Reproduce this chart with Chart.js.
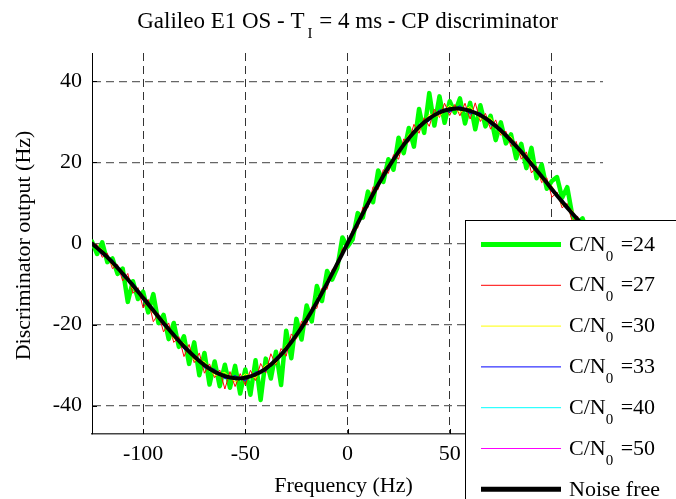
<!DOCTYPE html>
<html>
<head>
<meta charset="utf-8">
<script src="https://cdn.jsdelivr.net/npm/chart.js@4.4.0/dist/chart.umd.min.js"></script>
<style>
html,body{margin:0;padding:0;background:#fff;}
#wrap{width:676px;height:499px;position:relative;}
</style>
</head>
<body>
<div id="wrap"><canvas id="c" width="676" height="499"></canvas></div>
<script>
// ---------- DATA ----------
const freqFine = [-125,-122.5,-120,-117.5,-115,-112.5,-110,-107.5,-105,-102.5,-100,-97.5,-95,-92.5,-90,-87.5,-85,-82.5,-80,-77.5,-75,-72.5,-70,-67.5,-65,-62.5,-60,-57.5,-55,-52.5,-50,-47.5,-45,-42.5,-40,-37.5,-35,-32.5,-30,-27.5,-25,-22.5,-20,-17.5,-15,-12.5,-10,-7.5,-5,-2.5,0,2.5,5,7.5,10,12.5,15,17.5,20,22.5,25,27.5,30,32.5,35,37.5,40,42.5,45,47.5,50,52.5,55,57.5,60,62.5,65,67.5,70,72.5,75,77.5,80,82.5,85,87.5,90,92.5,95,97.5,100,102.5,105,107.5,110,112.5,115,117.5,120,122.5,125];
const freqCoarse = [-125,-120,-115,-110,-105,-100,-95,-90,-85,-80,-75,-70,-65,-60,-55,-50,-45,-40,-35,-30,-25,-20,-15,-10,-5,0,5,10,15,20,25,30,35,40,45,50,55,60,65,70,75,80,85,90,95,100,105,110,115,120,125];

const cn24 = [0.5,-2.6,0.3,-4.6,-3.7,-7.5,-6.2,-14.4,-9.3,-13.7,-11.9,-17.0,-12.5,-19.6,-17.6,-23.6,-19.6,-25.5,-22.9,-29.7,-24.4,-32.5,-27.0,-34.8,-29.1,-35.2,-29.9,-35.6,-30.2,-37.0,-31.1,-37.3,-28.8,-38.6,-28.4,-33.3,-26.7,-34.9,-21.5,-28.3,-18.6,-23.7,-15.3,-19.2,-10.5,-14.2,-6.8,-8.9,-6.0,1.5,-0.8,1.0,7.5,6.4,12.8,10.2,18.0,15.2,20.8,18.2,26.1,22.3,28.5,23.9,33.2,27.3,37.1,29.1,36.3,29.8,35.1,32.3,35.8,29.6,34.7,28.2,34.1,28.9,31.5,25.5,29.9,24.7,26.9,21.0,24.6,18.6,23.6,16.1,19.5,13.5,15.4,16.4,11.3,13.9,6.9,5.0,6.2,2.4,3.2,0.6,0.5];
const cn27 = [-0.3,-0.3,-3.4,-2.4,-6.2,-5.2,-9.2,-7.4,-12.3,-10.9,-15.9,-13.8,-19.3,-17.3,-21.8,-19.6,-24.4,-23.0,-27.9,-24.9,-29.4,-27.0,-32.0,-29.7,-33.1,-31.2,-35.9,-31.6,-35.3,-32.1,-34.9,-31.3,-33.8,-29.6,-31.9,-27.2,-29.9,-25.9,-27.8,-22.3,-23.6,-19.2,-20.0,-15.7,-16.0,-11.0,-11.3,-6.4,-5.8,-1.3,-0.5,3.5,3.8,8.9,8.8,14.0,13.3,18.2,17.3,21.9,20.8,25.8,25.0,29.4,27.2,31.0,28.9,33.1,31.1,34.6,31.6,34.3,31.5,34.6,30.7,34.7,30.1,32.1,28.2,30.5,26.7,27.7,23.9,25.2,20.8,22.6,17.4,19.1,15.0,16.2,11.4,12.7,8.8,9.9,5.4,6.8,3.5,4.2,1.2,1.6,0.2];
const cn30 = [0.3,-1.5,-5.5,-6.8,-11.2,-12.7,-17.3,-18.9,-23.5,-24.6,-28.8,-29.1,-32.6,-31.8,-34.2,-32.2,-33.2,-30.0,-29.6,-25.1,-23.4,-18.0,-15.3,-9.0,-5.8,0.6,4.2,10.7,13.7,19.6,21.8,26.9,27.9,31.8,31.4,34.1,32.3,33.8,30.7,31.0,27.0,26.3,21.7,20.5,15.6,14.2,9.5,8.2,3.9,2.9,-0.2];
const cn33 = [-0.2,-2.8,-4.0,-8.1,-9.7,-14.1,-15.9,-20.3,-22.0,-26.1,-27.3,-30.7,-31.0,-33.4,-32.6,-33.9,-31.7,-31.5,-28.1,-26.6,-22.0,-19.4,-13.9,-10.5,-4.4,-0.5,5.6,9.2,15.1,18.1,23.3,25.3,29.4,30.2,33.0,32.4,34.0,32.0,32.3,29.3,28.5,24.7,23.2,19.0,17.1,12.8,10.9,6.8,5.2,1.6,0.3];
const cn40 = [0.1,-2.4,-4.4,-7.7,-10.1,-13.6,-16.3,-19.9,-22.4,-25.6,-27.7,-30.2,-31.4,-33.0,-33.0,-33.4,-32.1,-31.1,-28.5,-26.2,-22.4,-19.0,-14.3,-10.1,-4.8,0.2,5.2,10.1,14.3,19.0,22.4,25.8,28.5,31.1,32.1,33.4,33.0,32.5,31.4,30.2,27.7,25.6,22.4,19.4,16.3,13.6,10.1,7.7,4.4,2.4,-0.1];
const cn50 = [0.0,-2.1,-4.7,-7.3,-10.4,-13.3,-16.6,-19.5,-22.7,-25.3,-27.9,-30.1,-31.6,-32.8,-33.2,-33.2,-32.3,-30.9,-28.7,-26.0,-22.6,-18.8,-14.5,-9.8,-5.0,0.1,5.0,9.9,14.4,18.8,22.6,26.0,28.8,30.8,32.4,33.1,33.3,32.7,31.7,29.9,27.9,25.4,22.6,19.6,16.5,13.4,10.3,7.4,4.7,2.2,0.0];
const noiseFree = [0,-2.18,-4.66,-7.40,-10.33,-13.40,-16.52,-19.62,-22.61,-25.40,-27.88,-29.99,-31.63,-32.73,-33.25,-33.12,-32.33,-30.86,-28.73,-25.97,-22.63,-18.77,-14.48,-9.84,-4.98,0,4.98,9.84,14.48,18.77,22.63,25.97,28.73,30.86,32.33,33.12,33.25,32.73,31.63,29.99,27.88,25.40,22.61,19.62,16.52,13.40,10.33,7.40,4.66,2.18,0];

const xTicks = [-100,-50,0,50,100];
const yTicks = [-40,-20,0,20,40];
const cnLabels = ['24','27','30','33','40','50'];
const noiseFreeLabel = 'Noise free';
const titleMain = 'Galileo E1 OS - T';
const titleSub = 'I';
const titleRest = ' = 4 ms - CP discriminator';
const xTitle = 'Frequency (Hz)';
const yTitle = 'Discriminator output (Hz)';

// ---------- STYLE ----------
const FONT = '"Liberation Serif", "Times New Roman", serif';
const pair = (xs, ys) => xs.map((x, i) => ({x: x, y: ys[i]}));

const series = [
  {ys: cn24, xs: freqFine,   color: '#00ff00', width: 4.5, order: 6, lw: 5},
  {ys: cn27, xs: freqFine,   color: '#ff0000', width: 1,   order: 5, lw: 1},
  {ys: cn30, xs: freqCoarse, color: '#ffff00', width: 1,   order: 4, lw: 1},
  {ys: cn33, xs: freqCoarse, color: '#0000ff', width: 1,   order: 3, lw: 1},
  {ys: cn40, xs: freqCoarse, color: '#00ffff', width: 1,   order: 2, lw: 1},
  {ys: cn50, xs: freqCoarse, color: '#ff00ff', width: 1,   order: 1, lw: 1},
  {ys: noiseFree, xs: freqCoarse, color: '#000000', width: 4, order: 0, lw: 5, smooth: true}
];

const datasets = series.map((s, i) => ({
  label: i < cnLabels.length ? 'C/N0 =' + cnLabels[i] : noiseFreeLabel,
  data: pair(s.xs, s.ys),
  borderColor: s.color,
  backgroundColor: s.color,
  borderWidth: s.width,
  borderJoinStyle: 'round',
  borderCapStyle: 'round',
  pointRadius: 0,
  fill: false,
  tension: s.smooth ? 0.4 : 0,
  order: s.order,
  legendWidth: s.lw
}));

const decor = {
  id: 'decor',
  beforeDatasetsDraw(chart) {
    const ctx = chart.ctx, xs = chart.scales.x, ys = chart.scales.y;
    const a = chart.chartArea;
    ctx.save();
    ctx.strokeStyle = '#000';
    ctx.lineWidth = 1;
    xTicks.forEach(v => {
      const px = Math.round(xs.getPixelForValue(v)) + 0.5;
      ctx.beginPath(); ctx.moveTo(px, a.bottom); ctx.lineTo(px, a.bottom - 5); ctx.stroke();
    });
    yTicks.forEach(v => {
      const py = Math.round(ys.getPixelForValue(v)) + 0.5;
      ctx.beginPath(); ctx.moveTo(a.left, py); ctx.lineTo(a.left + 5, py); ctx.stroke();
    });
    ctx.restore();
  },
  afterDraw(chart) {
    const ctx = chart.ctx;
    const a = chart.chartArea;
    ctx.save();
    ctx.fillStyle = '#000';
    // title
    ctx.font = '23px ' + FONT;
    const w1 = ctx.measureText(titleMain).width;
    const w3 = ctx.measureText(titleRest).width;
    ctx.font = '15px ' + FONT;
    const w2 = ctx.measureText(titleSub).width + 4;
    const total = w1 + w2 + w3;
    let tx = (a.left + a.right) / 2 - total / 2;
    ctx.textBaseline = 'alphabetic';
    ctx.textAlign = 'left';
    ctx.font = '23px ' + FONT;
    ctx.fillText(titleMain, tx, 28);
    ctx.font = '15px ' + FONT;
    ctx.fillText(titleSub, tx + w1 + 3, 38);
    ctx.font = '23px ' + FONT;
    ctx.fillText(titleRest, tx + w1 + w2, 28);
    // x title
    ctx.font = '22px ' + FONT;
    ctx.textAlign = 'center';
    ctx.fillText(xTitle, (a.left + a.right) / 2 - 4, 492);
    // y title
    ctx.save();
    ctx.translate(30, (a.top + a.bottom) / 2 + 2);
    ctx.rotate(-Math.PI / 2);
    ctx.fillText(yTitle, 0, 0);
    ctx.restore();

    // legend box
    const lx = 465.5, ly = 220.5;
    ctx.fillStyle = '#fff';
    ctx.fillRect(lx, ly, 700 - lx, 520 - ly);
    ctx.strokeStyle = '#000';
    ctx.lineWidth = 1;
    ctx.strokeRect(lx, ly, 700 - lx, 520 - ly);
    const dsets = chart.data.datasets;
    dsets.forEach((ds, i) => {
      const y = 244.5 + i * 40.8;
      ctx.strokeStyle = ds.borderColor;
      ctx.lineWidth = ds.legendWidth;
      ctx.lineCap = 'butt';
      ctx.beginPath(); ctx.moveTo(481, y); ctx.lineTo(561, y); ctx.stroke();
      ctx.fillStyle = '#000';
      ctx.textAlign = 'left';
      if (i < cnLabels.length) {
        ctx.font = '22px ' + FONT;
        ctx.fillText('C/N', 569, y + 6);
        const wc = ctx.measureText('C/N').width;
        ctx.font = '15px ' + FONT;
        ctx.fillText('0', 569 + wc, y + 16);
        const ws = ctx.measureText('0').width;
        ctx.font = '22px ' + FONT;
        ctx.fillText(' =' + cnLabels[i], 569 + wc + ws + 2, y + 6);
      } else {
        ctx.font = '22px ' + FONT;
        ctx.fillText(noiseFreeLabel, 569, y + 7);
      }
    });
    ctx.restore();
  }
};

new Chart(document.getElementById('c'), {
  type: 'line',
  data: {datasets: datasets},
  plugins: [decor],
  options: {
    responsive: false,
    animation: false,
    devicePixelRatio: 1,
    layout: {padding: {top: 53, right: 73, left: 0, bottom: 0}},
    plugins: {legend: {display: false}, title: {display: false}, tooltip: {enabled: false}},
    scales: {
      x: {
        type: 'linear', min: -125, max: 125,
        afterBuildTicks: s => { s.ticks = xTicks.map(v => ({value: v})); },
        afterFit: s => { s.height = 65; },
        grid: {color: '#333', lineWidth: 1, drawTicks: false},
        border: {color: '#444', width: 1.5, dash: [8, 5]},
        ticks: {font: {family: FONT, size: 22}, color: '#000', padding: 7, maxRotation: 0, autoSkip: false}
      },
      y: {
        type: 'linear', min: -47, max: 47,
        afterBuildTicks: s => { s.ticks = yTicks.map(v => ({value: v})); },
        afterFit: s => { s.width = 92; },
        grid: {color: '#666', lineWidth: 1.3, drawTicks: false},
        border: {color: '#000', width: 1, dash: [8, 5]},
        ticks: {font: {family: FONT, size: 22}, color: '#000', padding: 10}
      }
    }
  }
});
</script>
</body>
</html>
